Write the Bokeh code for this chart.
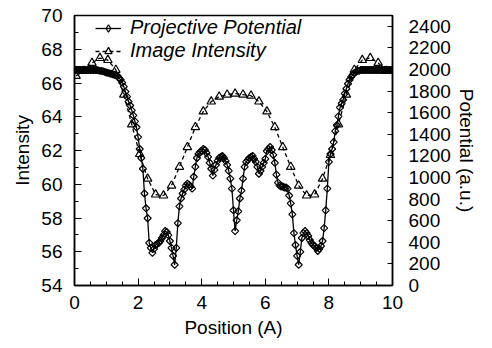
from bokeh.plotting import figure
from bokeh.models import (Range1d, LinearAxis, SingleIntervalTicker, Legend, LegendItem,
                          ColumnDataSource)
from bokeh.embed import file_html
from bokeh.resources import INLINE

# ---------------- data ----------------
POS_POT = [
    0.0, 0.05, 0.1, 0.15, 0.2, 0.25, 0.3, 0.35, 0.4, 0.45, 0.5, 0.55, 0.6, 0.65, 0.7, 0.75, 0.8, 0.85, 0.9, 0.95,
    1.0, 1.05, 1.1, 1.15, 1.2, 1.25, 1.3, 1.35, 1.4, 1.45, 1.5, 1.55, 1.6, 1.65, 1.7, 1.75, 1.8, 1.85, 1.9, 1.95,
    2.0, 2.05, 2.1, 2.15, 2.2, 2.25, 2.3, 2.35, 2.4, 2.45, 2.5, 2.55, 2.6, 2.65, 2.7, 2.75, 2.8, 2.85, 2.9, 2.95,
    3.0, 3.05, 3.1, 3.15, 3.2, 3.25, 3.3, 3.35, 3.4, 3.45, 3.5, 3.55, 3.6, 3.65, 3.7, 3.75, 3.8, 3.85, 3.9, 3.95,
    4.0, 4.05, 4.1, 4.15, 4.2, 4.25, 4.3, 4.35, 4.4, 4.45, 4.5, 4.55, 4.6, 4.65, 4.7, 4.75, 4.8, 4.85, 4.9, 4.95,
    5.0, 5.05, 5.1, 5.15, 5.2, 5.25, 5.3, 5.35, 5.4, 5.45, 5.5, 5.55, 5.6, 5.65, 5.7, 5.75, 5.8, 5.85, 5.9, 5.95,
    6.0, 6.05, 6.1, 6.15, 6.2, 6.25, 6.3, 6.35, 6.4, 6.45, 6.5, 6.55, 6.6, 6.65, 6.7, 6.75, 6.8, 6.85, 6.9, 6.95,
    7.0, 7.05, 7.1, 7.15, 7.2, 7.25, 7.3, 7.35, 7.4, 7.45, 7.5, 7.55, 7.6, 7.65, 7.7, 7.75, 7.8, 7.85, 7.9, 7.95,
    8.0, 8.05, 8.1, 8.15, 8.2, 8.25, 8.3, 8.35, 8.4, 8.45, 8.5, 8.55, 8.6, 8.65, 8.7, 8.75, 8.8, 8.85, 8.9, 8.95,
    9.0, 9.05, 9.1, 9.15, 9.2, 9.25, 9.3, 9.35, 9.4, 9.45, 9.5, 9.55, 9.6, 9.65, 9.7, 9.75, 9.8, 9.85, 9.9, 9.95,
    10.0,
]
POTENTIAL = [
    1996, 1996, 1996, 1996, 1996, 1996, 1996, 1996, 1996, 1996, 1996, 1996, 1996, 1996, 1996, 1992, 1987, 1987, 1983, 1978,
    1973, 1969, 1964, 1960, 1955, 1951, 1946, 1941, 1923, 1905, 1877, 1841, 1795, 1749, 1703, 1667, 1621, 1575, 1520, 1465,
    1374, 1264, 1181, 1081, 852, 715, 623, 394, 348, 302, 339, 375, 385, 394, 412, 440, 467, 504, 495, 467,
    412, 348, 275, 192, 348, 577, 733, 806, 852, 888, 925, 943, 934, 916, 897, 1007, 1099, 1181, 1218, 1236,
    1245, 1264, 1255, 1227, 1191, 1136, 1081, 1017, 1071, 1117, 1154, 1181, 1191, 1200, 1181, 1154, 1117, 1062, 989, 897,
    696, 504, 604, 687, 806, 879, 989, 1099, 1145, 1163, 1181, 1191, 1200, 1172, 1145, 1099, 1035, 1062, 1099, 1136,
    1172, 1245, 1264, 1282, 1255, 1209, 1136, 1026, 952, 925, 916, 916, 907, 907, 897, 833, 760, 659, 485, 375,
    275, 192, 311, 440, 485, 504, 485, 458, 421, 394, 375, 366, 348, 320, 339, 366, 412, 531, 696, 897,
    1145, 1218, 1264, 1328, 1429, 1484, 1566, 1648, 1685, 1719, 1777, 1822, 1868, 1905, 1932, 1951, 1969, 1978, 1987, 1987,
    1996, 1996, 1996, 1996, 1996, 1996, 1996, 1996, 1996, 1996, 1996, 1996, 1996, 1996, 1996, 1996, 1996, 1996, 1996, 1996,
    1996,
]
POS_IMG = [
    0.05, 0.30, 0.55, 0.80, 1.05, 1.30, 1.55, 1.80, 2.05, 2.30, 2.55, 2.80, 3.05, 3.30, 3.55, 3.80, 4.05, 4.30, 4.55, 4.80,
    5.05, 5.30, 5.55, 5.80, 6.05, 6.30, 6.55, 6.80, 7.05, 7.30, 7.55, 7.80, 8.05, 8.30, 8.55, 8.80, 9.05, 9.30, 9.55, 9.80,
]
INTENSITY = [
    66.42, 66.72, 67.19, 67.48, 67.36, 66.78, 65.31, 63.55, 61.79, 60.33, 59.39, 59.33, 59.92, 61.03, 62.20, 63.38, 64.31, 64.90, 65.19, 65.31,
    65.37, 65.31, 65.25, 64.90, 64.31, 63.38, 62.20, 61.03, 59.92, 59.33, 59.39, 60.33, 61.73, 63.55, 65.31, 66.78, 67.36, 67.48, 67.19, 66.72,
]
SERIES_NAMES = ["Projective Potential", "Image Intensity"]
X_LABEL = "Position (A)"
Y_LABEL = "Intensity"
Y2_LABEL = "Potential (a.u.)"

FONT = "Liberation Sans"

pot_src = ColumnDataSource(data=dict(x=POS_POT, y=POTENTIAL))
img_src = ColumnDataSource(data=dict(x=POS_IMG, y=INTENSITY))

p = figure(width=484, height=340, output_backend="svg", toolbar_location=None,
           x_range=Range1d(0, 10), y_range=Range1d(54, 70),
           min_border_left=74, min_border_right=92, min_border_top=15, min_border_bottom=52)
p.extra_y_ranges = {"pot": Range1d(0, 2500)}
# a range that puts the legend-key glyph entirely outside the frame (it is clipped away)
p.extra_x_ranges = {"key": Range1d(100, 110)}
p.grid.visible = False
p.outline_line_color = "black"
p.outline_line_width = 1.5
p.background_fill_color = "white"
p.border_fill_color = "white"

yaxis2 = LinearAxis(y_range_name="pot")
p.add_layout(yaxis2, "right")

p.xaxis.ticker = SingleIntervalTicker(interval=2, num_minor_ticks=4)
p.yaxis[0].ticker = SingleIntervalTicker(interval=2, num_minor_ticks=2)
yaxis2.ticker = SingleIntervalTicker(interval=200, num_minor_ticks=0)

p.xaxis.axis_label = X_LABEL
p.yaxis[0].axis_label = Y_LABEL
yaxis2.axis_label = Y2_LABEL

for ax in [p.xaxis[0], p.yaxis[0], yaxis2]:
    ax.axis_line_color = "black"
    ax.axis_line_width = 1.5
    ax.major_tick_in = 7
    ax.major_tick_out = 0
    ax.minor_tick_in = 4
    ax.minor_tick_out = 0
    ax.major_tick_line_color = "black"
    ax.minor_tick_line_color = "black"
    ax.major_label_text_font = FONT
    ax.major_label_text_font_size = "19px"
    ax.major_label_text_color = "black"
    ax.axis_label_text_font = FONT
    ax.axis_label_text_font_size = "19px"
    ax.axis_label_text_font_style = "normal"
    ax.axis_label_text_color = "black"

p.xaxis.major_label_standoff = 10
p.xaxis.axis_label_standoff = 5
p.yaxis[0].major_label_standoff = 12
p.yaxis[0].axis_label_standoff = 5
yaxis2.major_label_standoff = 16
yaxis2.axis_label_standoff = 2
yaxis2.major_tick_in = 5

pot_line = p.line("x", "y", source=pot_src, y_range_name="pot", line_color="black", line_width=1.3)
pot_pts = p.scatter("x", "y", source=pot_src, y_range_name="pot", marker="square", angle=0.785398,
                    size=5.0, fill_color=None, line_color="black", line_width=1.2)
img_line = p.line("x", "y", source=img_src, line_color="black", line_width=1.3, line_dash="4 3")
img_pts = p.scatter("x", "y", source=img_src, marker="triangle", size=8.5,
                    fill_color=None, line_color="black", line_width=1.2)

# legend key marker (the legend does not rotate markers); falls outside the frame
pot_key = p.scatter("x", "y", source=pot_src, x_range_name="key", y_range_name="pot",
                    marker="diamond", size=9.5,
                    fill_color=None, line_color="black", line_width=1.2)

legend = Legend(items=[LegendItem(label=SERIES_NAMES[0], renderers=[pot_line, pot_key]),
                       LegendItem(label=SERIES_NAMES[1], renderers=[img_line, img_pts])],
                location=(19, 221))
legend.background_fill_alpha = 0
legend.border_line_alpha = 0
legend.margin = 0
legend.padding = 2
legend.spacing = -8
legend.glyph_width = 26
legend.glyph_height = 18
legend.label_height = 18
legend.label_standoff = 9
legend.label_text_font = FONT
legend.label_text_font_size = "20px"
legend.label_text_font_style = "italic"
legend.label_text_color = "black"
p.add_layout(legend, "center")

open("out.html", "w").write(file_html(p, INLINE))
